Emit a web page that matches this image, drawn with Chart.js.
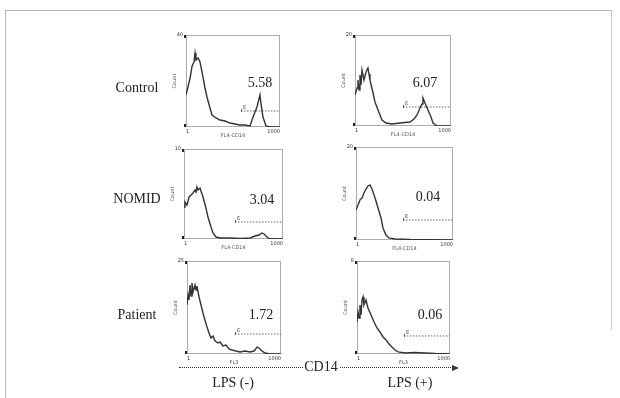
<!DOCTYPE html>
<html>
<head>
<meta charset="utf-8">
<script src="https://cdn.jsdelivr.net/npm/chart.js@4"></script>
<style>
body { margin: 0; width: 620px; height: 398px; position: relative; overflow: hidden; background: #fff;
       font-family: 'Liberation Serif', 'Times New Roman', serif; color: #222; }
.frame { position: absolute; left: 5px; top: 10px; width: 606px; height: 400px;
         border-left: 1px solid #b5b5b5; border-top: 1px solid #b5b5b5; }
.frame-r { position: absolute; left: 611px; top: 10px; width: 0; height: 320px; border-left: 1px solid #c8c8c8; }
.lbl { position: absolute; font-size: 14px; line-height: 16px; white-space: nowrap; transform: translate(-50%, -50%); }
.dots { position: absolute; height: 0; border-top: 1px dotted #333; }
.head { position: absolute; width: 0; height: 0; border-top: 3px solid transparent; border-bottom: 3px solid transparent;
        border-left: 7px solid #333; }
</style>
</head>
<body>
<div class="frame"></div>
<div class="frame-r"></div>

<script>
// histogram points per panel: [channel position 0-100, relative count]
const controlNeg = [[0,34.8],[2.1,43.5],[4.3,53],[6.4,66],[8.5,70.7],[9.6,80.4],[10.6,72.8],[12.8,75],[14.9,70.7],
  [18.1,54.3],[20.2,42.4],[22.3,32.6],[25.5,20.7],[27.7,13],[31.9,9.8],[36.2,7.6],[41.5,6.5],[46.8,4.3],[52.1,3.3],
  [57.4,2.2],[62.8,2.2],[68.1,1.1],[70.2,7.6],[73.4,16.3],[75.5,21.7],[78.7,34.8],[79.8,25],[81.9,10.9],[85.1,1.1],[89.4,0],[100,0]];
const controlPos = [[0,34.1],[2.1,41.8],[3.1,50.5],[4.2,39.6],[5.2,56],[6.3,45],[7.3,61.5],[9.4,50.5],[11.5,59.3],
  [13.5,63.7],[14.6,57.1],[15.6,50.5],[18.8,36.3],[20.8,26.4],[24,17.6],[28.1,6.6],[32.3,3.3],[38.5,2.2],[46.9,3.3],
  [57.3,4.4],[61.5,7.7],[64.6,12.1],[67.7,19.8],[69.8,24.2],[70.8,30.8],[72.9,25.3],[76,17.6],[79.2,9.9],[81.3,3.3],[85.4,0],[100,0]];
const nomidNeg = [[0,35.6],[1,41.1],[3,37.8],[5.1,46.7],[7.1,48.9],[9.1,51.1],[11.1,54.4],[12.1,52.2],[13.1,57.8],
  [14.1,54.4],[16.2,56.7],[19.2,46.7],[22.2,34.4],[24.2,24.4],[27.3,13.3],[29.3,6.7],[32.3,2.2],[36.4,1.1],[46.5,1.1],
  [56.6,0.6],[66.7,1.1],[71.7,3.3],[75.8,4.4],[78.8,6.7],[80.8,5.6],[82.8,3.3],[85.9,0.6],[100,0]];
const nomidPos = [[0,32.3],[2.1,37.6],[4.1,43],[6.2,45.2],[8.2,50.5],[10.3,54.8],[12.4,58.1],[14.4,59.1],[16.5,54.8],
  [18.6,48.4],[20.6,41.9],[22.7,34.4],[25.8,23.7],[27.8,12.9],[30.9,5.4],[34,2.2],[40.2,1.1],[55.7,0.5],[100,0]];
const patientNeg = [[0,52.7],[1.1,63.4],[2.1,58.1],[3.2,74.2],[4.3,62.4],[5.3,76.3],[6.4,66.7],[8.5,74.2],[9.6,68.8],
  [10.6,73.1],[12.8,61.3],[14.9,52.7],[17,44.1],[19.1,36.6],[21.3,29],[23.4,22.6],[25.5,17.2],[27.7,19.4],[29.8,14],
  [33,11.8],[35.1,12.9],[38.3,8.6],[41.5,9.7],[44.7,5.4],[47.9,4.3],[52.1,3.2],[56.4,2.2],[61.7,3.2],[67,2.2],
  [71.3,3.2],[74.5,7.5],[76.6,6.5],[79.8,3.2],[83,1.1],[88.3,0],[100,0]];
const patientPos = [[0,34.4],[1.1,45.2],[2.2,38.7],[3.2,52.7],[4.3,41.9],[5.4,58.1],[6.5,61.3],[7.5,52.7],[9.7,58.1],
  [11.8,49.5],[15.1,41.9],[18.3,34.4],[21.5,28],[24.7,23.7],[28,18.3],[31.2,15.1],[34.4,10.8],[37.6,7.5],[40.9,4.3],
  [44.1,2.2],[51.6,1.1],[62.4,1.6],[73.1,1.1],[83.9,0.5],[100,0]];

const series = [controlNeg, controlPos, nomidNeg, nomidPos, patientNeg, patientPos];
const gateStart = [58.5, 50, 51.5, 48.5, 51, 50.5];
const gateLevel = [17.4, 20.9, 18.9, 21.5, 21.5, 19.4];
const gatePct = ['5.58', '6.07', '3.04', '0.04', '1.72', '0.06'];
const yTopLabels = ['40', '20', '10', '20', '25', '8'];
const xTickLabels = ['1', '1000'];
const xTitles = ['FL4-CD14', 'FL4-CD14', 'FL4-CD14', 'FL4-CD14', 'FL3', 'FL3'];
const rowNames = ['Control', 'NOMID', 'Patient'];
const conditions = ['LPS (-)', 'LPS (+)'];
const axisName = 'CD14';

// plot boxes in page pixels
const boxes = [
  { x: 186, y: 35, w: 94, h: 92 }, { x: 355, y: 35, w: 96, h: 91 },
  { x: 184, y: 149, w: 99, h: 90 }, { x: 356, y: 147, w: 97, h: 93 },
  { x: 187, y: 261, w: 94, h: 93 }, { x: 357, y: 261, w: 93, h: 93 }
];
const pctPos = [[260, 83], [425, 83], [262, 200], [428, 197], [261, 315], [430, 315]];
const rowY = [88, 199, 315];

const tiny = { size: 5, family: "'DejaVu Sans', sans-serif" };

const framePlugin = {
  id: 'frame',
  beforeDatasetsDraw(chart, args, opts) {
    const { ctx, chartArea: a, scales } = chart;
    ctx.save();
    ctx.strokeStyle = '#5a5a5a';
    ctx.lineWidth = 1;
    ctx.setLineDash([1, 1]);
    ctx.strokeRect(a.left + 0.5, a.top + 0.5, a.right - a.left - 1, a.bottom - a.top - 1);
    ctx.setLineDash([]);
    // dark end marks on the count axis
    ctx.fillStyle = '#222';
    ctx.fillRect(a.left - 2, a.top, 2, 3);
    ctx.fillRect(a.left - 2, a.bottom - 3, 2, 3);
    // small gate marker letter
    const gx = scales.x.getPixelForValue(gateStart[opts.idx]);
    const gy = scales.y.getPixelForValue(gateLevel[opts.idx]);
    ctx.fillStyle = '#555';
    ctx.font = "5px 'DejaVu Sans', sans-serif";
    ctx.fillText('E', gx + 2, gy - 2);
    ctx.fillRect(gx, gy - 2, 1, 3);
    ctx.restore();
  }
};

function makePanel(i) {
  const b = boxes[i];
  const W = b.w + 18, H = b.h + 16;
  const cv = document.createElement('canvas');
  cv.width = W; cv.height = H;
  cv.style.cssText = `position:absolute;left:${b.x - 14}px;top:${b.y - 4}px;width:${W}px;height:${H}px`;
  document.body.appendChild(cv);

  new Chart(cv.getContext('2d'), {
    type: 'line',
    data: {
      datasets: [
        {
          data: series[i].map(p => ({ x: p[0], y: p[1] })),
          borderColor: '#333', borderWidth: 1.4, pointRadius: 0, tension: 0
        },
        {
          data: [{ x: gateStart[i], y: gateLevel[i] }, { x: 100, y: gateLevel[i] }],
          borderColor: '#666', borderWidth: 1, borderDash: [1.5, 1.5], pointRadius: 0
        }
      ]
    },
    options: {
      responsive: false,
      animation: false,
      events: [],
      layout: { padding: { left: 0, right: 4, top: 4, bottom: 0 } },
      plugins: { legend: { display: false }, tooltip: { enabled: false }, frame: { idx: i } },
      scales: {
        x: {
          type: 'linear', min: 0, max: 100,
          grid: { display: false, drawTicks: false }, border: { display: false },
          ticks: { stepSize: 100, autoSkip: false, maxRotation: 0, align: 'inner', padding: 2, color: '#333',
                   font: tiny, callback: v => (v === 0 ? xTickLabels[0] : xTickLabels[1]) },
          title: { display: true, text: xTitles[i], font: tiny, padding: 0, color: '#555' },
          afterFit: s => { s.height = 12; s.paddingLeft = 0; s.paddingRight = 0; }
        },
        y: {
          min: 0, max: 100,
          grid: { display: false, drawTicks: false }, border: { display: false },
          ticks: { stepSize: 100, padding: 3, color: '#333', font: tiny,
                   callback: v => (v === 0 ? '' : yTopLabels[i]) },
          title: { display: true, text: 'Count', font: tiny, padding: 0, color: '#555' },
          afterFit: s => { s.width = 14; s.paddingTop = 0; s.paddingBottom = 0; }
        }
      }
    },
    plugins: [framePlugin]
  });
}

function addLabel(text, x, y) {
  const d = document.createElement('div');
  d.className = 'lbl';
  d.textContent = text;
  d.style.left = x + 'px';
  d.style.top = y + 'px';
  document.body.appendChild(d);
}

for (let i = 0; i < series.length; i++) {
  makePanel(i);
  addLabel(gatePct[i], pctPos[i][0], pctPos[i][1]);
}
rowNames.forEach((r, k) => addLabel(r, 137, rowY[k]));
addLabel(conditions[0], 233, 383);
addLabel(conditions[1], 410, 383);
addLabel(axisName, 321, 367);

// dotted CD14 arrow
const l1 = document.createElement('div');
l1.className = 'dots';
l1.style.cssText = 'left:179px;top:367px;width:124px';
document.body.appendChild(l1);
const l2 = document.createElement('div');
l2.className = 'dots';
l2.style.cssText = 'left:340px;top:367px;width:113px';
document.body.appendChild(l2);
const hd = document.createElement('div');
hd.className = 'head';
hd.style.cssText = 'left:452px;top:364.5px';
document.body.appendChild(hd);
</script>
</body>
</html>
